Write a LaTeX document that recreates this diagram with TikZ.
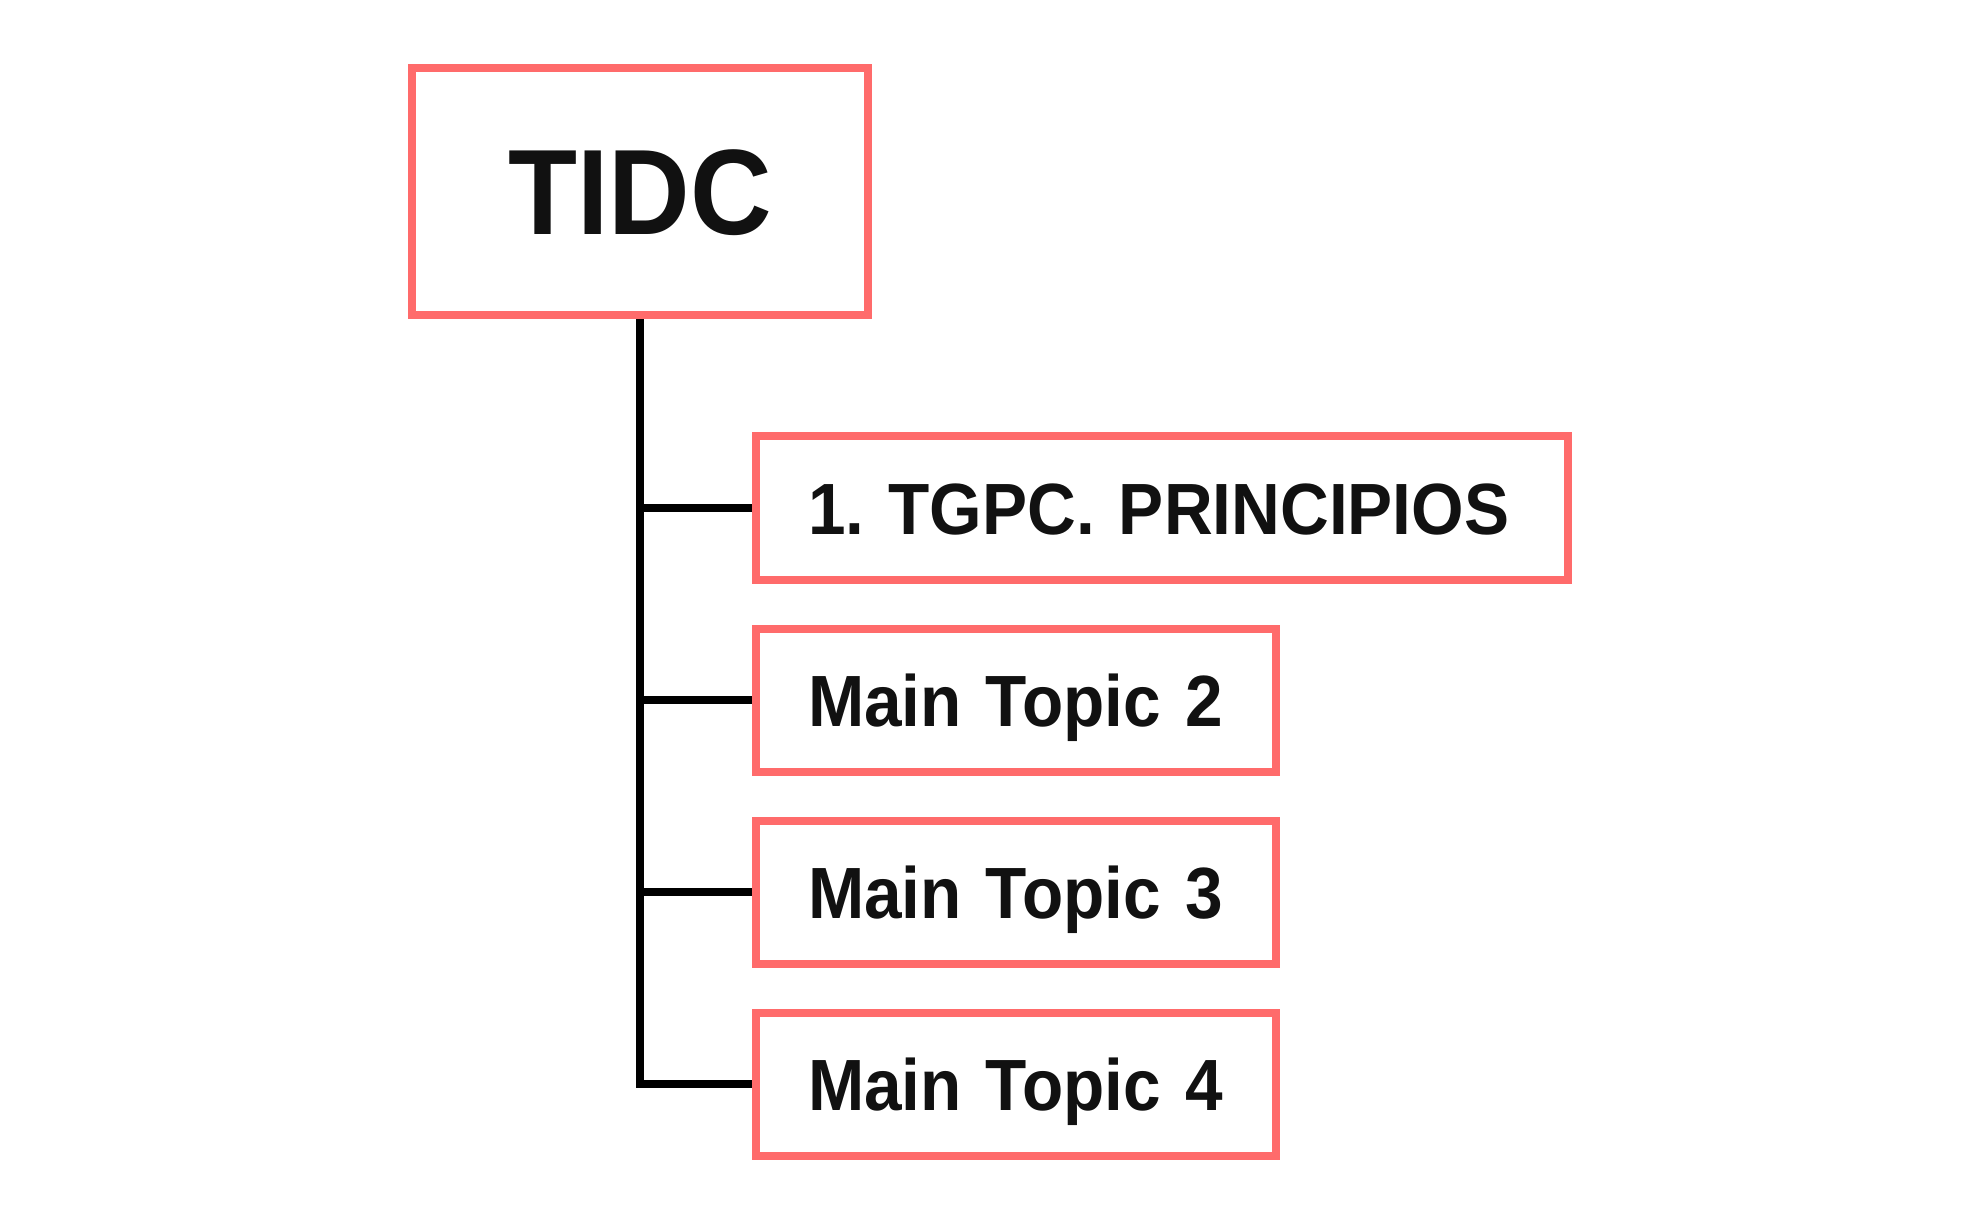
\documentclass[tikz,border=0pt]{standalone}
\usepackage{fontspec}
\setmainfont{Liberation Sans}[FakeStretch=0.93]
\frenchspacing
\definecolor{boxred}{HTML}{FF6B6B}
\definecolor{inkblack}{HTML}{111111}
\tikzset{
  mainbox/.style={draw=boxred, line width=4pt, outer sep=0pt, minimum width=228pt, minimum height=123.5pt,
    font=\fontsize{60.75}{70}\selectfont\bfseries, text=inkblack, text height=43.5pt, text depth=0pt},
  topicbox/.style={draw=boxred, line width=4pt, outer sep=0pt, minimum height=71.5pt, inner xsep=28pt, inner ysep=0pt,
    anchor=west, font=\fontsize{36.3}{42}\selectfont\bfseries, text=inkblack,
    text height=26.5pt, text depth=0pt,
    execute at begin node=\hbox\bgroup\kern-2pt, execute at end node=\egroup},
  branch/.style={line width=4pt, shorten >=2pt}
}
\begin{document}
\begin{tikzpicture}[x=0.5pt, y=-0.5pt]
  \useasboundingbox (0,0) rectangle (1980,1224);

  \node[mainbox] (root) at (640,191.5) {TIDC};

  \node[topicbox, text width=350pt] (t1) at (756,508) {1. TGPC. PRINCIPIOS};
  \foreach \n/\y in {2/700, 3/892, 4/1084}
    \node[topicbox, text width=204pt] (t\n) at (756,\y) {Main Topic \n};

  \draw[branch, shorten <=2pt] (root.south) |- (t4.west);
  \foreach \n in {1,2,3}
    \draw[branch] (root.south |- t\n.west) -- (t\n.west);
\end{tikzpicture}
\end{document}
